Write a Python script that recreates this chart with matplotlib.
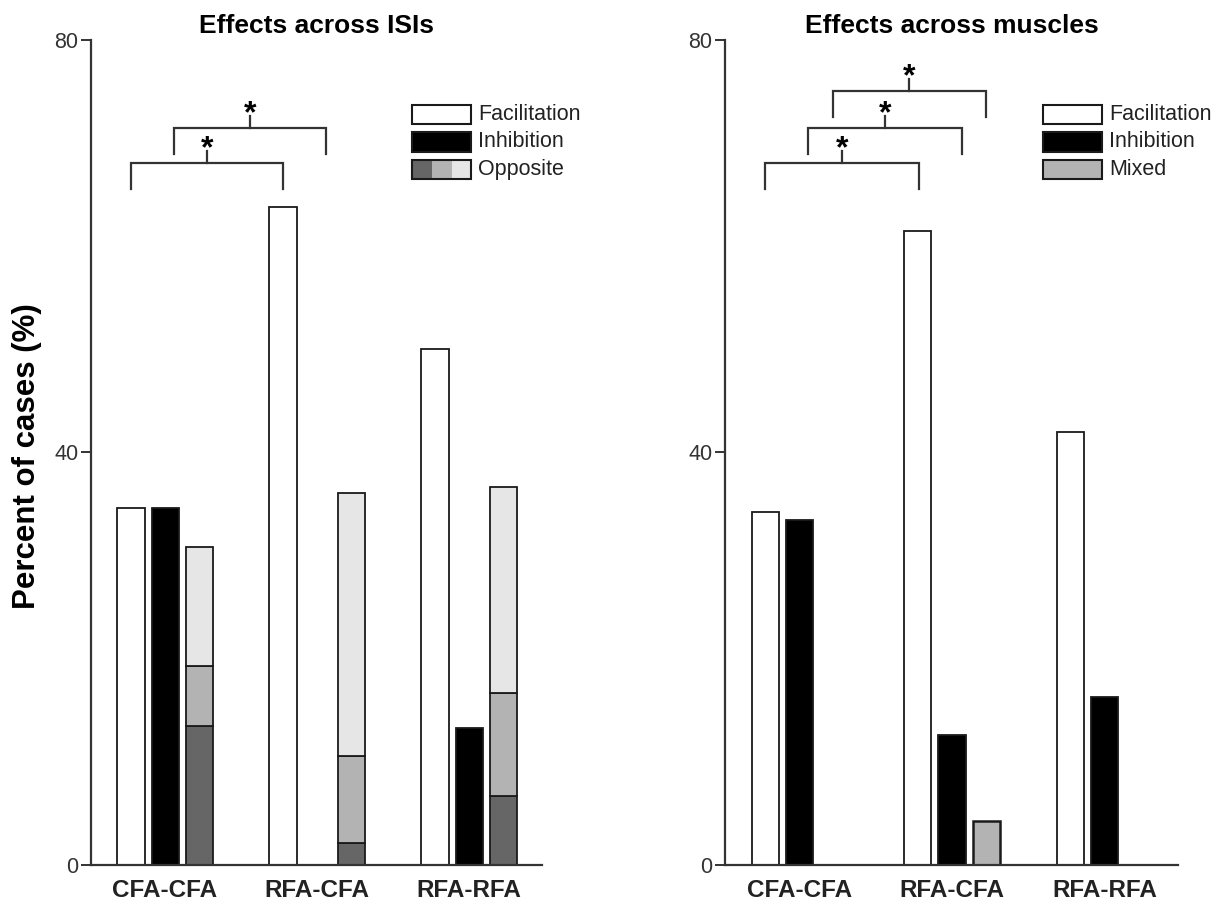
import matplotlib
matplotlib.use("Agg")
import matplotlib.pyplot as plt
from matplotlib.patches import Rectangle
import numpy as np

plt.rcParams['font.family'] = ['Liberation Sans', 'DejaVu Sans']

groups = ['CFA-CFA', 'RFA-CFA', 'RFA-RFA']

# effects across ISIs (%)
isi_fac = [34.6, 63.8, 50.0]
isi_inh = [34.6, 0.0, 13.3]
isi_opp_dark = [13.5, 2.1, 6.7]
isi_opp_mid = [5.8, 8.5, 10.0]
isi_opp_light = [11.5, 25.5, 20.0]

# effects across muscles (%)
mus_fac = [34.2, 61.5, 42.0]
mus_inh = [33.5, 12.6, 16.3]
mus_mix = [0.0, 4.3, 0.0]

# significance brackets: (start, end, height)
isi_sig = [(-0.224, 0.776, 68.1), (0.059, 1.059, 71.5)]
mus_sig = [(-0.224, 0.783, 68.1), (0.059, 1.066, 71.5), (0.217, 1.224, 75.1)]

DARK, MID, LIGHT = '#666666', '#b3b3b3', '#e6e6e6'
EDGE = '#1a1a1a'
AX = '#333333'
W = 0.178
OFF = 0.224


def masked(v):
    v = np.asarray(v, dtype=float)
    return np.where(v > 0, v, np.nan)


def style_axis(ax, title):
    ax.set_xlim(-0.487, 2.48)
    ax.set_ylim(0, 80)
    ax.set_yticks([0, 40, 80])
    ax.set_xticks(range(len(groups)))
    ax.set_xticklabels(groups, fontsize=17.5, fontweight='bold', color='#222222')
    for s in ['top', 'right']:
        ax.spines[s].set_visible(False)
    for s in ['left', 'bottom']:
        ax.spines[s].set_linewidth(1.6)
        ax.spines[s].set_color(AX)
    ax.tick_params(axis='x', length=0, pad=10)
    ax.tick_params(axis='y', length=7, width=1.4, color=AX, pad=2,
                   labelsize=15.5, labelcolor='#333333')
    ax.text(0.5, 1.0085, title, transform=ax.transAxes, ha='center',
            va='baseline', fontsize=19, fontweight='bold')


def brackets(ax, sig):
    for x1, x2, y in sig:
        ax.plot([x1, x1, x2, x2], [y - 2.55, y, y, y - 2.55], color=AX,
                lw=1.6, solid_joinstyle='miter', clip_on=False)
        xm = (x1 + x2) / 2
        ax.plot([xm, xm], [y, y + 1.1], color=AX, lw=1.6, clip_on=False)
        ax.text(xm, y + 0.55, '*', ha='center', va='baseline', fontsize=23,
                fontweight='bold', clip_on=False)


def legend(ax, entries, x0=0.712):
    bw, bh = 0.131, 0.0232
    ys = [0.8982, 0.8648, 0.8318]
    for (label, cols), yb in zip(entries, ys):
        n = len(cols)
        for i, c in enumerate(cols):
            ax.add_patch(Rectangle((x0 + i * bw / n, yb), bw / n, bh,
                                   transform=ax.transAxes, facecolor=c,
                                   edgecolor='none', clip_on=False))
        ax.add_patch(Rectangle((x0, yb), bw, bh, transform=ax.transAxes,
                               facecolor='none', edgecolor=EDGE, lw=1.5,
                               clip_on=False))
        ax.text(x0 + bw + 0.015, yb + bh / 2, label, transform=ax.transAxes,
                ha='left', va='center', fontsize=15.5, color='#222222')


fig = plt.figure(figsize=(12.2, 9.05), dpi=100)
ax1 = fig.add_axes([0.0746, 0.0442, 0.3697, 0.9116])
ax2 = fig.add_axes([0.5943, 0.0442, 0.3713, 0.9116])

x = np.arange(len(groups))

# left panel
ax1.bar(x - OFF, isi_fac, W, color='white', edgecolor=EDGE, lw=1.3, zorder=2)
ax1.bar(x, masked(isi_inh), W, color='black', edgecolor=EDGE, lw=1.3, zorder=2)
bottom = np.zeros(len(groups))
for vals, c in [(isi_opp_dark, DARK), (isi_opp_mid, MID), (isi_opp_light, LIGHT)]:
    ax1.bar(x + OFF, vals, W, bottom=bottom, color=c, edgecolor=EDGE,
            lw=1.3, zorder=2)
    bottom = bottom + np.asarray(vals)
style_axis(ax1, 'Effects across ISIs')
brackets(ax1, isi_sig)
legend(ax1, [('Facilitation', ['white']), ('Inhibition', ['black']),
             ('Opposite', [DARK, MID, LIGHT])])

# right panel
ax2.bar(x - OFF, mus_fac, W, color='white', edgecolor=EDGE, lw=1.3, zorder=2)
ax2.bar(x, masked(mus_inh), W, color='black', edgecolor=EDGE, lw=1.3, zorder=2)
ax2.bar(x + OFF, masked(mus_mix), W, color=MID, edgecolor=EDGE, lw=1.8, zorder=2)
style_axis(ax2, 'Effects across muscles')
brackets(ax2, mus_sig)
legend(ax2, [('Facilitation', ['white']), ('Inhibition', ['black']),
             ('Mixed', [MID])], x0=0.702)

fig.text(27 / 1220, 1 - 456 / 905, 'Percent of cases (%)', rotation=90,
         ha='center', va='center', fontsize=22.5, fontweight='bold')

fig.savefig('out.png', dpi=100)
